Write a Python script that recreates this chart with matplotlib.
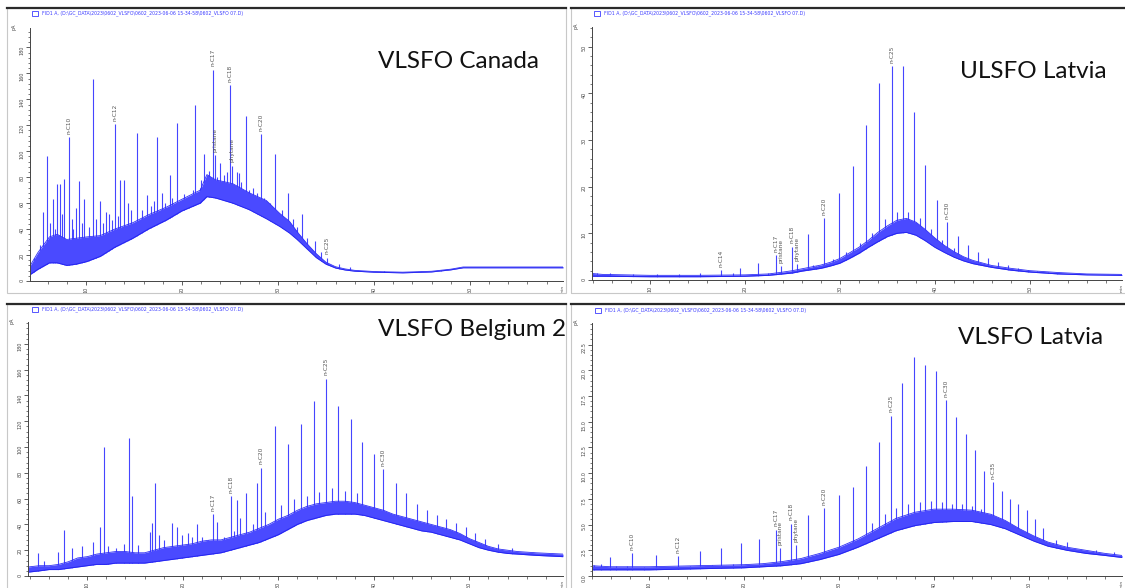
import numpy as np
import matplotlib
matplotlib.use("Agg")
import matplotlib.pyplot as plt
from matplotlib.patches import Rectangle
from matplotlib.ticker import MultipleLocator

TRACE = "#3b3bff"
HEADER = "FID1 A, (D:\\GC_DATA\\2023\\0602_VLSFO\\0602_2023-06-06 15-34-58\\0602_VLSFO 07.D)"

# ---- VLSFO Canada ----
can_hump_t = [4.2, 5.0, 6.2, 7.0, 8.0, 9.0, 10.1, 11.5, 13.0, 14.9, 16.5, 18.4, 20.0, 21.9,
              22.6, 23.5, 25.3, 27.0, 28.8, 30.2, 31.2, 32.0, 33.0, 34.0, 35.0, 36.0, 37.0,
              38.0, 40.0, 43.0, 46.0, 48.0, 49.3, 60.0]
can_hump_lo = [5, 9, 14, 14, 12, 13, 15, 19, 26, 33, 40, 47, 54, 60,
               65, 64, 60, 55, 48, 42, 37, 32, 25, 18, 13, 10, 8.5,
               7.6, 6.8, 6.3, 7.0, 8.6, 10.2, 10.2]
can_hump_hi = [12, 22, 34, 36, 32, 33, 34, 35, 40, 45, 51, 57, 63, 70,
               82, 78, 75, 68, 62, 52, 46, 38, 29, 21, 14.5, 11, 9.3,
               8.2, 7.3, 6.8, 7.5, 9.1, 10.8, 10.8]
can_peak_t = [4.6, 5.2, 5.5, 5.9, 6.3, 6.6, 6.8, 7.0, 7.3, 7.5, 7.7, 8.2, 8.5, 8.7, 9.0, 9.3,
              9.6, 9.8, 10.3, 10.7, 11.0, 11.5, 11.8, 12.1, 12.4, 12.7, 13.0, 13.3, 13.5, 14.0,
              14.4, 14.7, 15.3, 15.8, 16.4, 16.8, 17.1, 17.4, 17.9, 18.2, 18.8, 19.0, 19.5,
              20.2, 20.7, 21.1, 21.4, 21.9, 22.0, 22.3, 22.8, 23.2, 23.4, 23.7, 24.0, 24.4,
              24.7, 25.0, 25.2, 25.7, 25.9, 26.2, 26.7, 27.0, 27.4, 27.8, 28.2, 28.6, 29.2,
              29.7, 30.4, 31.1, 31.6, 32.0, 32.5, 33.0, 33.9, 34.5, 35.1, 36.4, 37.5, 41.0,
              44.0, 47.0]
can_peak_h = [18, 28, 53, 96, 45, 63, 40, 75, 75, 52, 79, 111, 48, 40, 56, 77,
              45, 63, 42, 156, 48, 62, 45, 53, 52, 47, 121, 50, 78, 78,
              60, 55, 114, 55, 66, 58, 62, 111, 68, 60, 82, 64, 122,
              67, 62, 70, 136, 72, 78, 98, 85, 163, 97, 80, 91, 82,
              84, 151, 89, 84, 83, 76, 127, 70, 72, 68, 113, 64, 60,
              98, 55, 68, 48, 42, 52, 33, 31, 22, 18, 13, 10.5, 7.8,
              7.2, 8.3]
can_labels = [("n-C10", 8.2), ("n-C12", 13.0), ("n-C17", 23.2), ("pristane", 23.4),
              ("n-C18", 25.0), ("phytane", 25.2), ("n-C20", 28.2), ("n-C25", 35.1)]

# ---- ULSFO Latvia ----
uls_hump_t = [3.9, 5.0, 10, 15, 20, 22.5, 24, 25, 26, 27, 28, 29, 30, 31, 32, 33, 34, 35,
              36, 37, 38, 39, 40, 41, 42, 43, 44, 46, 48, 50, 53, 56, 59.7]
uls_hump_lo = [0.8, 0.8, 0.7, 0.7, 0.8, 1.0, 1.3, 1.5, 1.9, 2.2, 2.5, 3.0, 3.6, 4.6, 5.7,
               7.0, 8.2, 9.3, 10.0, 10.2, 9.6, 8.4, 7.0, 5.9, 4.9, 4.1, 3.5, 2.7, 2.1, 1.7,
               1.3, 1.1, 1.0]
uls_hump_hi = [1.4, 1.2, 1.0, 1.0, 1.1, 1.3, 1.7, 2.0, 2.4, 2.8, 3.2, 3.8, 4.6, 5.8, 7.0,
               8.5, 10.2, 11.6, 12.8, 13.2, 12.4, 10.8, 9.0, 7.4, 6.1, 5.0, 4.2, 3.1, 2.5,
               2.0, 1.6, 1.3, 1.2]
uls_peak_t = [4.4, 5.8, 8.2, 10.7, 13.1, 15.3, 17.5, 18.7, 19.5, 21.4, 22.4, 23.3, 23.8,
              25.0, 25.5, 26.6, 27.2, 27.5, 28.3, 29.3, 29.9, 30.6, 31.4, 32.1, 32.7, 33.4,
              34.1, 34.8, 35.5, 36.0, 36.6, 37.2, 37.8, 38.4, 39.0, 39.6, 40.2, 40.8, 41.3,
              42.0, 42.4, 43.5, 44.5, 45.6, 46.6, 47.7, 48.7, 49.8, 50.8, 51.9, 52.9]
uls_peak_h = [1.6, 1.5, 1.3, 1.3, 1.3, 1.5, 2.1, 1.4, 2.5, 3.6, 1.6, 5.3, 3.0,
              7.1, 3.4, 9.8, 3.3, 3.0, 13.2, 4.5, 18.6, 6.0, 24.4, 8.0, 33.2, 10.0,
              42.2, 13.0, 45.8, 14.5, 45.8, 14.5, 36.0, 13.2, 24.6, 11.0, 17.1, 8.5, 12.4,
              6.8, 9.4, 7.5, 6.0, 4.7, 3.9, 3.2, 2.6, 2.1, 1.9, 1.7, 1.5]
uls_labels = [("n-C14", 17.5), ("n-C17", 23.3), ("pristane", 23.8), ("n-C18", 25.0),
              ("phytane", 25.5), ("n-C20", 28.3), ("n-C25", 35.5), ("n-C30", 41.3)]

# ---- VLSFO Belgium 2 ----
bel_hump_t = [3.8, 5, 6, 7, 8, 9, 10, 11, 12, 13, 14, 15, 16, 17, 18, 19, 20, 21, 22, 23,
              24, 25, 26, 27, 28, 29, 30, 31, 32, 33, 34, 35, 36, 37, 38, 39, 40, 41, 42,
              43, 44, 45, 46, 47, 48, 49, 50, 51, 52, 53, 54, 55, 57, 59.8]
bel_hump_lo = [3, 4, 5, 5, 6, 7, 8, 9, 9, 10, 10, 10, 10, 11, 12, 13, 14, 15, 16, 17,
               18, 20, 22, 24, 26, 29, 32, 36, 40, 43, 45, 47, 48, 48, 48, 47, 45, 43, 41,
               39, 37, 35, 34, 32, 30, 28, 25, 22, 20, 18.5, 17.5, 17, 16, 15]
bel_hump_hi = [7, 8, 8, 9, 11, 14, 15, 17, 18, 19, 19, 18, 18, 20, 22, 23, 24, 25, 27, 28,
               28, 30, 32, 34, 37, 40, 44, 47, 51, 54, 56, 57, 58, 58, 57, 55, 53, 51, 48,
               46, 44, 42, 40, 38, 36, 33, 29, 26, 23, 21, 20, 19, 18, 17]
bel_peak_t = [4.8, 5.5, 6.9, 7.6, 8.4, 9.5, 10.6, 11.3, 11.8, 12.2, 13.0, 13.8, 14.4, 14.7,
              15.3, 16.6, 16.8, 17.1, 17.5, 18.0, 18.9, 19.4, 19.9, 20.5, 21.0, 21.5, 22.0,
              22.6, 23.2, 23.6, 24.3, 25.0, 25.4, 25.7, 26.0, 26.6, 27.3, 27.8, 28.2, 28.6,
              29.7, 30.3, 31.0, 31.6, 32.4, 33.0, 33.7, 34.3, 35.0, 35.6, 36.3, 37.0, 37.6,
              38.2, 38.8, 40.0, 41.0, 42.3, 43.4, 44.5, 45.6, 46.6, 47.6, 48.6, 49.6, 50.6,
              51.6, 53.0, 54.5]
bel_peak_h = [18, 12, 19, 36, 22, 23, 26, 38, 100, 23, 22, 25, 107, 62,
              24, 34, 41, 72, 32, 28, 41, 38, 32, 33, 30, 40, 30,
              28, 48, 42, 30, 62, 35, 59, 45, 64, 40, 72, 84, 50,
              116, 55, 102, 60, 118, 62, 136, 65, 153, 68, 132, 66, 122,
              64, 104, 95, 83, 72, 64, 56, 51, 47, 44, 41, 38, 33,
              29, 25, 22]
bel_labels = [("n-C17", 23.2), ("n-C18", 25.0), ("n-C20", 28.2), ("n-C25", 35.0),
              ("n-C30", 41.0)]

# ---- VLSFO Latvia ----
lat_hump_t = [4.0, 6, 10, 15, 20, 22, 24, 26, 28, 30, 32, 34, 36, 38, 40, 42, 44, 46, 47.5,
              49, 50.5, 52, 54, 56, 58, 59.8]
lat_hump_lo = [0.6, 0.6, 0.6, 0.7, 0.8, 0.9, 1.0, 1.2, 1.6, 2.1, 2.8, 3.6, 4.4, 4.9, 5.2,
               5.3, 5.3, 5.0, 4.6, 4.0, 3.4, 2.9, 2.5, 2.2, 2.0, 1.8]
lat_hump_hi = [1.0, 0.9, 0.9, 1.0, 1.1, 1.2, 1.4, 1.7, 2.2, 2.8, 3.6, 4.6, 5.6, 6.2, 6.5,
               6.5, 6.4, 6.0, 5.4, 4.6, 3.9, 3.3, 2.8, 2.5, 2.2, 2.0]
lat_peak_t = [4.2, 4.9, 5.9, 6.5, 7.7, 8.2, 9.5, 10.7, 11.8, 13.1, 14.3, 15.4, 16.6, 17.6,
              18.8, 19.7, 21.6, 23.4, 23.8, 25.0, 25.5, 26.7, 28.4, 30.0, 31.5, 32.9, 33.5,
              34.2, 34.9, 35.5, 36.0, 36.6, 37.3, 37.9, 38.5, 39.1, 39.7, 40.2, 40.8, 41.3,
              41.9, 42.3, 43.0, 43.4, 44.0, 44.3, 45.0, 45.3, 46.2, 47.2, 48.0, 48.9, 49.8,
              50.6, 51.5, 52.8, 54.0, 55.5, 57.1, 59.0]
lat_peak_h = [1.1, 1.2, 1.8, 1.0, 1.0, 2.2, 0.9, 2.0, 0.9, 1.9, 1.0, 2.4, 1.1, 2.7,
              1.2, 3.2, 3.6, 4.5, 2.7, 5.1, 3.0, 5.9, 6.6, 7.9, 8.7, 10.7, 5.2,
              13.0, 6.0, 15.6, 6.6, 18.8, 7.0, 21.3, 7.2, 20.5, 7.3, 19.9, 7.2, 17.1,
              7.0, 15.5, 7.0, 13.8, 6.8, 12.3, 6.5, 10.2, 9.1, 8.3, 7.5, 7.0, 6.4,
              5.5, 4.7, 3.5, 3.3, 2.5, 2.5, 2.3]
lat_labels = [("n-C10", 8.2), ("n-C12", 13.1), ("n-C17", 23.4), ("pristane", 23.8),
              ("n-C18", 25.0), ("phytane", 25.5), ("n-C20", 28.4), ("n-C25", 35.5),
              ("n-C30", 41.3), ("n-C35", 46.2)]

W, H = 1125, 588
fig = plt.figure(figsize=(W / 100, H / 100), dpi=100)


def px_axes(x0, y0, x1, y1):
    return fig.add_axes([x0 / W, 1 - y1 / H, (x1 - x0) / W, (y1 - y0) / H])


def frame(x0, y0, x1, y1):
    fig.add_artist(Rectangle((x0 / W, 1 - y1 / H), (x1 - x0) / W, (y1 - y0) / H,
                             transform=fig.transFigure, fill=False, ec="#c8c8c8", lw=0.8))
    fig.add_artist(plt.Line2D([x0 / W, x1 / W], [1 - y0 / H] * 2,
                              transform=fig.transFigure, color="#2a2a2a", lw=1.6))


def header(x, y):
    fig.add_artist(Rectangle(((x - 1) / W, 1 - (y + 3) / H), 6 / W, 5 / H,
                             transform=fig.transFigure, fill=False, ec=TRACE, lw=0.6))
    fig.text((x + 9) / W, 1 - y / H, HEADER, fontsize=3.3, color=TRACE, va="center")


def panel(ax, xlim, ylim, ymajor, yminor, hump_t, hump_lo, hump_hi, peak_t, peak_h,
          labels, title, title_xy):
    ax.vlines(peak_t, 0, peak_h, color="#4545ff", lw=0.8, zorder=1)
    ax.fill_between(hump_t, 0, hump_lo, color="white", lw=0, zorder=1.5)
    ax.fill_between(hump_t, hump_lo, hump_hi, color="#4a4aff", lw=0, zorder=2)
    ax.plot(hump_t, hump_lo, color="#2525f0", lw=0.7, zorder=2.1)
    ax.plot(hump_t, hump_hi, color="#3030f5", lw=0.6, zorder=2.1)

    pt = np.asarray(peak_t)
    for name, t in labels:
        h = peak_h[int(np.argmin(np.abs(pt - t)))]
        ax.annotate(name, (t, h), xytext=(0, 2.5), textcoords="offset points",
                    rotation=90, ha="center", va="bottom", fontsize=4.2, color="#555555")

    ax.set_xlim(*xlim)
    ax.set_ylim(*ylim)
    for s in ("top", "right"):
        ax.spines[s].set_visible(False)
    for s in ("left", "bottom"):
        ax.spines[s].set_color("#444444")
        ax.spines[s].set_linewidth(0.7)
    ax.xaxis.set_major_locator(MultipleLocator(10))
    ax.xaxis.set_minor_locator(MultipleLocator(2))
    ax.yaxis.set_major_locator(MultipleLocator(ymajor))
    ax.yaxis.set_minor_locator(MultipleLocator(yminor))
    ax.tick_params(which="major", length=3, width=0.6, color="#444444", labelsize=3.5,
                   labelcolor="#444444", pad=1)
    ax.tick_params(which="minor", length=1.8, width=0.5, color="#444444")
    ax.tick_params(axis="both", labelrotation=90)
    ax.set_xticks([10, 20, 30, 40, 50])
    ax.text(-0.025, 1.005, "pA", transform=ax.transAxes, fontsize=3.5, rotation=90,
            ha="right", va="center", color="#444444")
    ax.text(1.0, -0.032, "min", transform=ax.transAxes, fontsize=3.2, rotation=90,
            ha="center", va="center", color="#444444")
    fig.text(title_xy[0] / W, 1 - title_xy[1] / H, title, fontsize=17.5, family="Lato",
             color="#111111", va="center", ha="left")


frame(7, 8, 566, 293)
frame(571, 8, 1130, 293)
frame(7, 304, 566, 595)
frame(571, 304, 1130, 595)
header(33, 13)
header(595, 13)
header(33, 309)
header(596, 310)

ax = px_axes(30, 28, 563, 281)
panel(ax, (4.17, 59.7), (0, 195), 20, 4, can_hump_t, can_hump_lo, can_hump_hi,
      can_peak_t, can_peak_h, can_labels, "VLSFO Canada", (378, 62))

ax = px_axes(592, 27, 1122, 280)
panel(ax, (3.9, 59.7), (0, 54.2), 10, 2, uls_hump_t, uls_hump_lo, uls_hump_hi,
      uls_peak_t, uls_peak_h, uls_labels, "ULSFO Latvia", (960, 72))

ax = px_axes(28, 322, 563, 576)
panel(ax, (3.8, 59.8), (0, 197), 20, 4, bel_hump_t, bel_hump_lo, bel_hump_hi,
      bel_peak_t, bel_peak_h, bel_labels, "VLSFO Belgium 2", (378, 330))

ax = px_axes(592, 323, 1122, 576)
panel(ax, (4.0, 59.8), (0, 24.6), 2.5, 0.5, lat_hump_t, lat_hump_lo, lat_hump_hi,
      lat_peak_t, lat_peak_h, lat_labels, "VLSFO Latvia", (958, 338))

fig.savefig("out.png", dpi=100)
